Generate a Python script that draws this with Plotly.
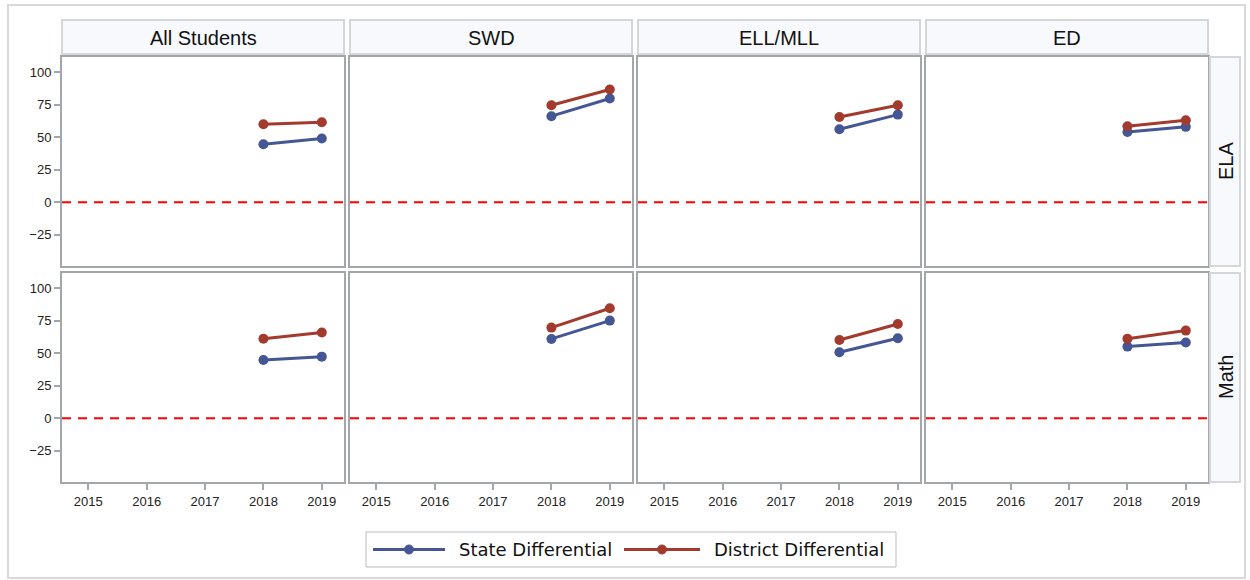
import plotly.graph_objects as go
from plotly.subplots import make_subplots

# ---- data ----
groups = ["All Students", "SWD", "ELL/MLL", "ED"]
subjects = ["ELA", "Math"]
years = [2018, 2019]
year_ticks = [2015, 2016, 2017, 2018, 2019]
y_ticks = [-25, 0, 25, 50, 75, 100]

state_ela = [[44.6, 49.0], [66.2, 79.8], [56.2, 67.4], [54.0, 58.0]]
district_ela = [[60.0, 61.5], [74.6, 86.7], [65.6, 74.6], [58.5, 63.0]]
state_math = [[44.8, 47.4], [61.0, 75.1], [50.8, 61.5], [55.1, 58.2]]
district_math = [[61.2, 65.9], [69.7, 84.6], [60.2, 72.5], [61.2, 67.4]]

series_names = ["State Differential", "District Differential"]
BLUE = "#445694"
RED = "#A23A2E"

W, H = 1250, 580
col_px = [(62, 344), (350, 632), (638, 920), (926, 1208)]
row_px = [(57, 266), (273, 482)]


def fx(p):
    return p / W


def fy(p):
    return 1 - p / H


fig = make_subplots(rows=2, cols=4)

data = {0: (state_ela, district_ela), 1: (state_math, district_math)}
for r in range(2):
    st, di = data[r]
    for c in range(4):
        fig.add_trace(go.Scatter(x=years, y=st[c], mode="lines+markers",
                                 name=series_names[0], showlegend=False,
                                 line=dict(color=BLUE, width=3),
                                 marker=dict(color=BLUE, size=10)),
                      row=r + 1, col=c + 1)
        fig.add_trace(go.Scatter(x=years, y=di[c], mode="lines+markers",
                                 name=series_names[1], showlegend=False,
                                 line=dict(color=RED, width=3),
                                 marker=dict(color=RED, size=10)),
                      row=r + 1, col=c + 1)

AX = "#a3a6aa"
TICKFONT = dict(family="Liberation Sans, Arial", size=13, color="#222222")
for r in range(2):
    for c in range(4):
        idx = r * 4 + c + 1
        xa = "xaxis" if idx == 1 else f"xaxis{idx}"
        ya = "yaxis" if idx == 1 else f"yaxis{idx}"
        fig.layout[xa].update(
            domain=[fx(col_px[c][0]), fx(col_px[c][1])],
            range=[2014.55, 2019.38], tickvals=year_ticks,
            ticktext=[str(t) for t in year_ticks],
            showticklabels=(r == 1), ticks="outside" if r == 1 else "",
            ticklen=6, tickwidth=2, tickcolor=AX,
            showline=True, mirror=True, linecolor=AX, linewidth=2,
            showgrid=False, zeroline=False, tickfont=TICKFONT)
        fig.layout[ya].update(
            domain=[fy(row_px[r][1]), fy(row_px[r][0])],
            range=[-49, 111.7], tickvals=y_ticks,
            showticklabels=(c == 0), ticks="outside" if c == 0 else "",
            ticklen=6, tickwidth=2, tickcolor=AX,
            showline=True, mirror=True, linecolor=AX, linewidth=2,
            showgrid=False, zeroline=False, tickfont=TICKFONT)
        xr = "x" if idx == 1 else f"x{idx}"
        yr = "y" if idx == 1 else f"y{idx}"
        fig.add_shape(type="line", xref=f"{xr} domain", yref=yr,
                      x0=0, x1=1, y0=0, y1=0,
                      line=dict(color="#ff0000", width=2, dash="9px,7px"),
                      layer="below")

STRIP_FILL = "#f8f9fd"
STRIP_LINE = "#d4d6d9"
HFONT = dict(family="Liberation Sans, Arial", size=20, color="#111111")
for c, g in enumerate(groups):
    x0, x1 = col_px[c]
    fig.add_shape(type="rect", xref="paper", yref="paper",
                  x0=fx(x0), x1=fx(x1), y0=fy(54), y1=fy(20),
                  fillcolor=STRIP_FILL, line=dict(color=STRIP_LINE, width=2))
    fig.add_annotation(x=fx((x0 + x1) / 2), y=fy(37.5), xref="paper", yref="paper",
                       xanchor="center", yanchor="middle",
                       text=g, showarrow=False, font=HFONT)
for r, s in enumerate(subjects):
    y0, y1 = row_px[r]
    fig.add_shape(type="rect", xref="paper", yref="paper",
                  x0=fx(1210), x1=fx(1240), y0=fy(y1), y1=fy(y0),
                  fillcolor=STRIP_FILL, line=dict(color=STRIP_LINE, width=2))
    fig.add_annotation(x=fx(1225.5), y=fy((y0 + y1) / 2), xref="paper", yref="paper",
                       xanchor="center", yanchor="middle",
                       text=s, showarrow=False, textangle=-90, font=HFONT)

# outer frame
fig.add_shape(type="rect", xref="paper", yref="paper",
              x0=fx(8), x1=fx(1245), y0=fy(578), y1=fy(5),
              line=dict(color="#d9d9d9", width=2), fillcolor="rgba(0,0,0,0)")

# legend (drawn manually to match the long line samples)
LFONT = dict(family="DejaVu Sans, Liberation Sans", size=18, color="#111111")
fig.add_shape(type="rect", xref="paper", yref="paper",
              x0=fx(366), x1=fx(896), y0=fy(567), y1=fy(532),
              line=dict(color="#b8bbbe", width=1), fillcolor="white")
ly = 549.5
for (lx0, lx1, tx), name, col in [((373, 445, 457), series_names[0], BLUE),
                                  ((624, 700, 712), series_names[1], RED)]:
    fig.add_shape(type="line", xref="paper", yref="paper",
                  x0=fx(lx0), x1=fx(lx1), y0=fy(ly), y1=fy(ly),
                  line=dict(color=col, width=3))
    mx = (lx0 + lx1) / 2
    fig.add_shape(type="circle", xref="paper", yref="paper",
                  x0=fx(mx - 4.5), x1=fx(mx + 4.5), y0=fy(ly + 4.5), y1=fy(ly - 4.5),
                  line=dict(color=col, width=1), fillcolor=col)
    fig.add_annotation(x=fx(tx), y=fy(ly), xref="paper", yref="paper",
                       xanchor="left", yanchor="middle",
                       text=name, showarrow=False, font=LFONT)

fig.update_layout(
    width=W, height=H, autosize=False,
    margin=dict(l=0, r=0, t=0, b=0),
    paper_bgcolor="white", plot_bgcolor="white",
    showlegend=False,
)

fig.write_html("out.html", config={"displayModeBar": False},
               post_script="document.body.style.margin='0';")
